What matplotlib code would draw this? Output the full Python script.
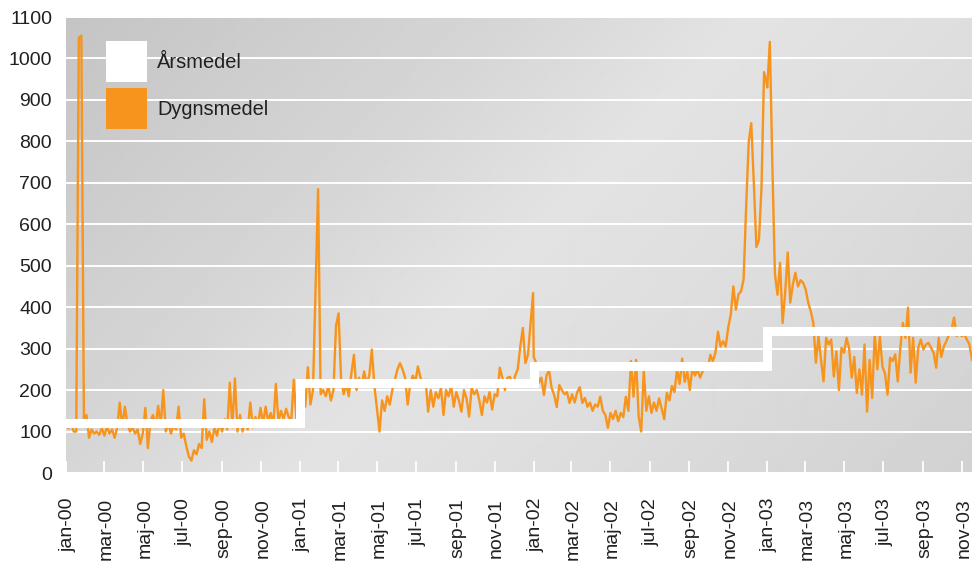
import numpy as np
import pandas as pd
import matplotlib
matplotlib.use('Agg')
import matplotlib.pyplot as plt
import matplotlib.transforms as mtransforms
from matplotlib.patches import Patch

plt.rcParams['font.family'] = ['Liberation Sans', 'DejaVu Sans']

dygn_2000 = [115, 108, 120, 100, 100, 1050, 1055, 130, 140, 85,
             105, 95, 100, 92, 108, 90, 112, 95, 105, 85,
             110, 170, 110, 160, 118, 100, 110, 95, 105, 70,
             95, 157, 60, 125, 140, 110, 162, 115, 200, 100,
             120, 95, 115, 105, 160, 85, 95, 65, 40, 30,
             55, 45, 70, 60, 178, 80, 100, 75, 110, 90,
             120, 100, 130, 105, 218, 110, 228, 100, 140, 100,
             125, 105, 170, 110, 135, 115, 157, 120, 160, 125,
             145, 115, 215, 125, 150, 130, 155, 135, 125, 225,
             130, 125]
dygn_2001 = [150, 185, 160, 255, 165, 200, 440, 685, 190, 200,
             185, 210, 175, 200, 355, 385, 225, 190, 215, 185,
             240, 285, 200, 230, 210, 245, 215, 235, 298, 210,
             155, 100, 175, 150, 185, 165, 200, 225, 250, 265,
             250, 230, 165, 215, 235, 220, 257, 230, 215, 225,
             148, 200, 160, 195, 180, 205, 140, 200, 185, 210,
             160, 195, 175, 148, 200, 180, 136, 205, 190, 200,
             175, 140, 185, 170, 195, 153, 190, 185, 254, 230,
             200, 230, 232, 210, 235, 250, 305, 350, 265, 285,
             360, 434]
dygn_2002 = [280, 265, 217, 230, 188, 235, 248, 205, 188, 159,
             212, 200, 190, 195, 169, 190, 170, 195, 207, 169,
             181, 160, 170, 150, 165, 160, 184, 150, 140, 109,
             145, 130, 150, 125, 145, 135, 184, 150, 270, 184,
             273, 136, 100, 249, 150, 185, 145, 170, 150, 180,
             155, 130, 193, 175, 210, 195, 250, 215, 276, 220,
             245, 200, 255, 235, 250, 230, 245, 260, 250, 285,
             270, 290, 341, 305, 318, 305, 351, 382, 450, 394,
             431, 438, 467, 642, 798, 844, 700, 545, 562, 688,
             967, 941]
dygn_2003 = [930, 1040, 742, 480, 430, 507, 362, 435, 532, 411,
             455, 483, 450, 465, 459, 443, 411, 390, 362, 266,
             330, 273, 221, 326, 310, 322, 233, 293, 200, 302,
             290, 326, 300, 230, 280, 193, 250, 189, 310, 148,
             273, 181, 339, 250, 330, 257, 240, 189, 278, 270,
             286, 221, 302, 362, 326, 399, 242, 326, 218, 302,
             322, 298, 310, 314, 302, 290, 254, 326, 280, 305,
             318, 334, 346, 375, 330, 338, 330, 334, 322, 310,
             273]

years = [2000, 2001, 2002, 2003]
arsmedel = [120, 216, 257, 343]
manader = ['jan', 'feb', 'mar', 'apr', 'maj', 'jun',
           'jul', 'aug', 'sep', 'okt', 'nov', 'dec']

orange = '#F7941D'
txt = '#231f20'

dygn = [dygn_2000, dygn_2001, dygn_2002, dygn_2003]
dates = np.concatenate([pd.date_range(f'{y}-01-01', periods=len(v), freq='4D').values
                        for y, v in zip(years, dygn)])
values = np.concatenate(dygn)

year_x = pd.to_datetime([f'{y}-01-01' for y in years] + ['2004-01-01'])
year_y = arsmedel + [arsmedel[-1]]

fig = plt.figure(figsize=(9.72, 5.68), dpi=100)
pos = [66 / 972, 95 / 568, 906 / 972, 456 / 568]

# gray diagonal gradient behind the plot
bg = fig.add_axes(pos)
bg.axis('off')
ny, nx = 228, 453
yy, xx = np.mgrid[0:ny, 0:nx]
t = (xx / nx * 906 + yy / ny * 456) / (906 + 456)
shade = np.interp(t, [0, 0.33, 0.5, 0.67, 1], [0.77, 0.84, 0.89, 0.87, 0.82])
bg.imshow(shade, cmap='gray', vmin=0, vmax=1, aspect='auto', origin='upper',
          extent=(0, 1, 0, 1), interpolation='bilinear')

ax = fig.add_axes(pos)
ax.set_facecolor('none')
ax.plot(dates, values, color=orange, lw=1.7, zorder=2)
ax.step(year_x, year_y, where='post', color='white', lw=6.5, zorder=3,
        solid_joinstyle='miter')

ax.set_ylim(0, 1100)
ax.set_yticks(range(0, 1101, 100))
ax.set_xlim(pd.Timestamp('2000-01-01'), pd.Timestamp('2003-11-17'))

ticks = pd.date_range('2000-01-01', '2003-11-01', freq='2MS')
ax.set_xticks(ticks)
ax.set_xticklabels([f'{manader[d.month - 1]}-{d:%y}' for d in ticks],
                   rotation=90, va='top', ha='center')
ax.tick_params(axis='x', direction='in', length=9, width=1.3, color='white',
               pad=18, labelsize=14, labelcolor=txt)
ax.tick_params(axis='y', length=0, pad=10, labelsize=14, labelcolor=txt)
shift = mtransforms.ScaledTranslation(2 / 100, 0, fig.dpi_scale_trans)
for lab in ax.get_xticklabels():
    lab.set_transform(lab.get_transform() + shift)

ax.yaxis.grid(True, color='white', lw=1.4)
ax.set_axisbelow(True)
for s in ax.spines.values():
    s.set_visible(False)

handles = [Patch(facecolor='white', edgecolor='none'),
           Patch(facecolor=orange, edgecolor='none')]
ax.legend(handles, ['Årsmedel', 'Dygnsmedel'], loc='upper left',
          bbox_to_anchor=(0.0442, 0.947), frameon=False, fontsize=14.4,
          handlelength=2.05, handleheight=2.775, handletextpad=0.5,
          labelspacing=0.3, borderpad=0, borderaxespad=0, labelcolor=txt)

fig.savefig('out.png', dpi=100)
